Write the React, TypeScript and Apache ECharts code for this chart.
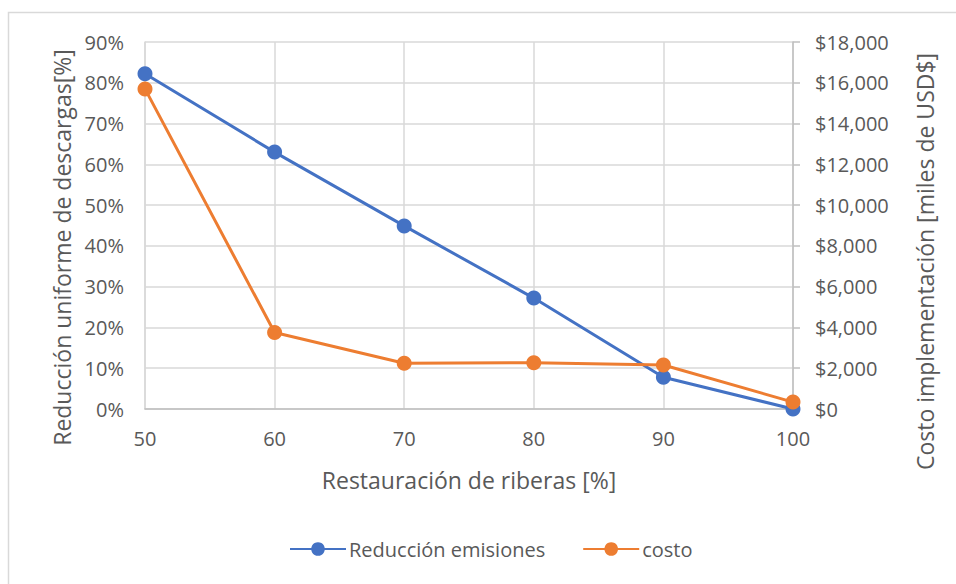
import React, { useEffect, useRef } from "react";
import * as echarts from "echarts";

// Restauración de riberas [%]
const restauracion = [50, 60, 70, 80, 90, 100];
// Reducción uniforme de descargas [%]
const reduccionEmisiones = [82.2, 63, 44.9, 27.2, 7.8, 0];
// Costo de implementación [miles de USD$]
const costo = [15700, 3750, 2240, 2270, 2160, 340];

const BLUE = "#4472c4";
const ORANGE = "#ed7d31";
const TEXT = "#595959";
const FONT = "'Open Sans', 'Noto Sans', sans-serif";

export default function App() {
  const ref = useRef<HTMLDivElement>(null);

  useEffect(() => {
    if (!ref.current) return;
    const chart = echarts.init(ref.current, undefined, { renderer: "svg" });
    const pairs = (ys: number[]) => restauracion.map((x, i) => [x, ys[i]]);
    chart.setOption({
      animation: false,
      backgroundColor: "#ffffff",
      textStyle: { fontFamily: FONT, color: TEXT },
      graphic: [
        {
          type: "rect",
          shape: { x: 8.5, y: 12.5, width: 960, height: 600 },
          style: { fill: "none", stroke: "#d9d9d9", lineWidth: 1.5 },
          silent: true,
        },
      ],
      grid: { left: 145, right: 163, top: 42, bottom: 175 },
      legend: {
        top: 534,
        left: 284,
        itemWidth: 56,
        itemHeight: 17,
        itemGap: 37,
        textStyle: { fontFamily: FONT, fontSize: 20, color: TEXT, padding: [0, 0, 0, -2] },
        data: ["Reducción emisiones", "costo"],
      },
      xAxis: {
        type: "value",
        min: 50,
        max: 100,
        interval: 10,
        name: "Restauración de riberas [%]",
        nameLocation: "middle",
        nameGap: 59,
        nameTextStyle: { fontFamily: FONT, fontSize: 23, color: TEXT },
        axisLine: { show: true, lineStyle: { color: "#bfbfbf", width: 1.5 } },
        axisTick: { show: false },
        axisLabel: { fontFamily: FONT, fontSize: 20, color: TEXT, margin: 19 },
        splitLine: { show: true, lineStyle: { color: "#d9d9d9", width: 1.5 } },
      },
      yAxis: [
        {
          type: "value",
          position: "left",
          min: 0,
          max: 90,
          interval: 10,
          name: "Reducción uniforme de descargas[%]",
          nameLocation: "middle",
          nameRotate: 90,
          nameGap: 67,
          nameTextStyle: {
            fontFamily: FONT,
            fontSize: 23,
            color: TEXT,
            padding: [0, 44, 0, 0],
          },
          axisLine: { show: true, lineStyle: { color: "#d9d9d9", width: 1.5 } },
          axisTick: { show: false },
          axisLabel: {
            fontFamily: FONT,
            fontSize: 20,
            color: TEXT,
            margin: 21,
            formatter: (v: number) => `${v}%`,
          },
          splitLine: { show: true, lineStyle: { color: "#d9d9d9", width: 1.5 } },
        },
        {
          type: "value",
          position: "right",
          min: 0,
          max: 18000,
          interval: 2000,
          name: "Costo implementación [miles de USD$]",
          nameLocation: "middle",
          nameRotate: 90,
          nameGap: 120,
          nameTextStyle: {
            fontFamily: FONT,
            fontSize: 23,
            color: TEXT,
            padding: [0, 72, 0, 0],
          },
          axisLine: { show: true, lineStyle: { color: "#bfbfbf", width: 1.5 } },
          axisTick: { show: true, length: 7, lineStyle: { color: "#bfbfbf", width: 1.5 } },
          axisLabel: {
            fontFamily: FONT,
            fontSize: 20,
            color: TEXT,
            margin: 22,
            formatter: (v: number) => "$" + v.toLocaleString("en-US"),
          },
          splitLine: { show: false },
        },
      ],
      series: [
        {
          name: "Reducción emisiones",
          type: "line",
          yAxisIndex: 0,
          data: pairs(reduccionEmisiones),
          symbol: "circle",
          symbolSize: 15,
          lineStyle: { color: BLUE, width: 3 },
          itemStyle: { color: BLUE },
        },
        {
          name: "costo",
          type: "line",
          yAxisIndex: 1,
          data: pairs(costo),
          symbol: "circle",
          symbolSize: 15,
          lineStyle: { color: ORANGE, width: 3 },
          itemStyle: { color: ORANGE },
        },
      ],
    });
    return () => chart.dispose();
  }, []);

  return (
    <div
      ref={ref}
      style={{ position: "absolute", left: 0, top: 0, width: 956, height: 584 }}
    />
  );
}
